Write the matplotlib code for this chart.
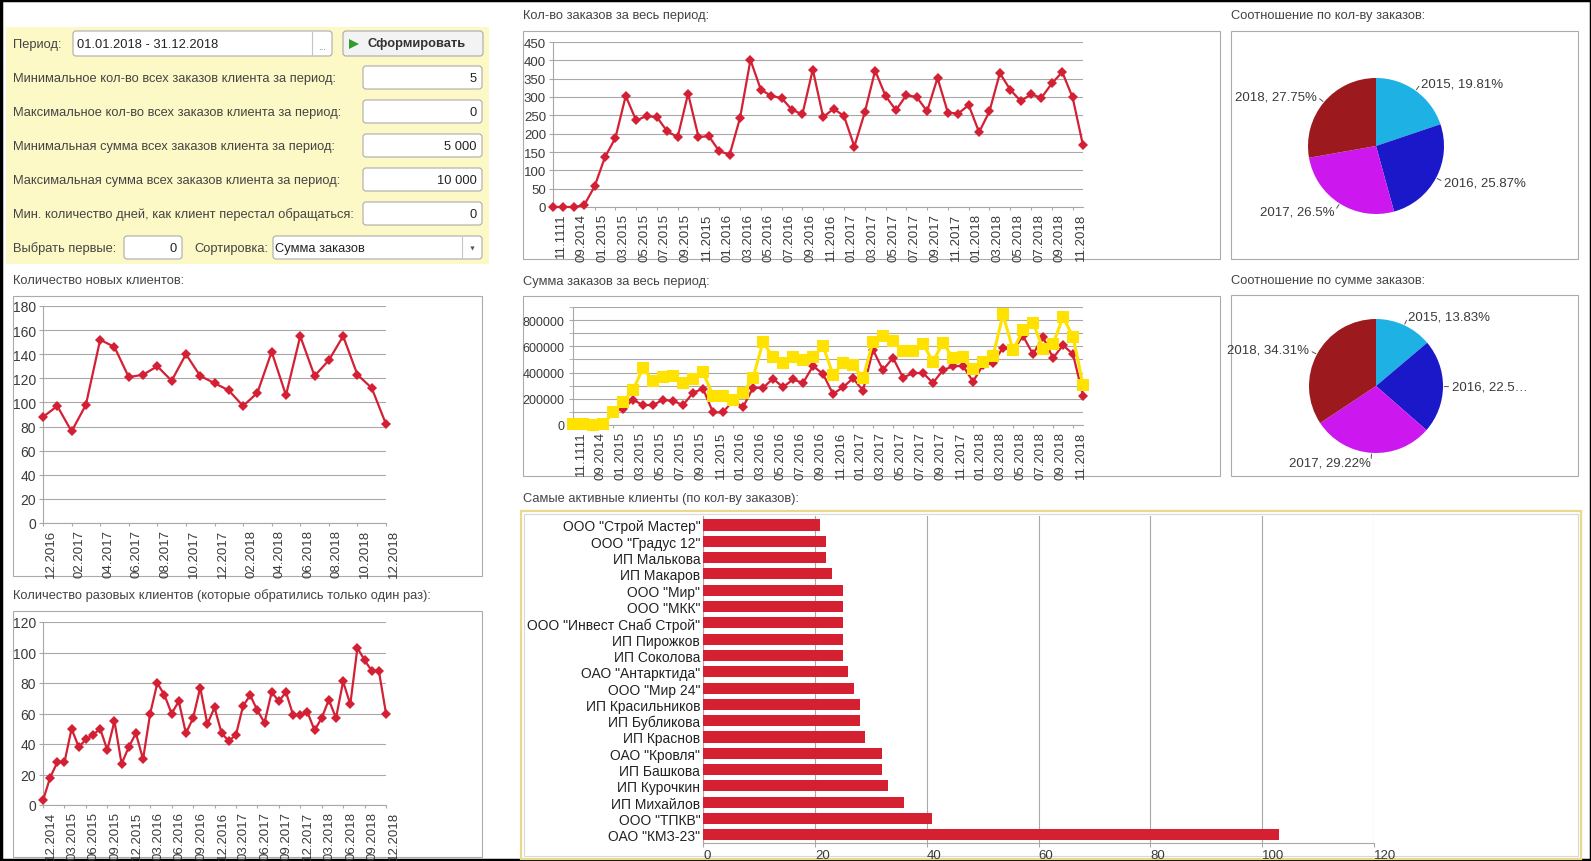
import matplotlib
matplotlib.use('Agg')
import matplotlib.pyplot as plt
from matplotlib.patches import Rectangle, FancyBboxPatch
from matplotlib.transforms import ScaledTranslation
import numpy as np

plt.rcParams['font.family'] = ['Liberation Sans', 'DejaVu Sans']
NARROW = ['Liberation Sans Narrow', 'Liberation Sans', 'DejaVu Sans']

# ---- data ----
new_clients = [88, 97, 76, 98, 152, 146, 121, 123, 130, 118, 140, 122, 116,
               110, 97, 108, 142, 106, 155, 122, 135, 155, 123, 112, 82]
new_ticks = ['12.2016', '02.2017', '04.2017', '06.2017', '08.2017', '10.2017', '12.2017',
             '02.2018', '04.2018', '06.2018', '08.2018', '10.2018', '12.2018']

one_time = [3, 18, 28, 28, 50, 38, 43, 46, 50, 36, 55, 27, 38, 47, 30, 60, 80, 72, 60, 68,
            47, 57, 77, 53, 64, 47, 42, 46, 65, 72, 62, 54, 74, 68, 74, 59, 59, 61, 49, 57,
            69, 57, 81, 66, 103, 95, 88, 88, 60]
one_time_ticks = ['12.2014', '03.2015', '06.2015', '09.2015', '12.2015', '03.2016', '06.2016',
                  '09.2016', '12.2016', '03.2017', '06.2017', '09.2017', '12.2017', '03.2018',
                  '06.2018', '09.2018', '12.2018']

orders_count = [0, 0, 0, 5, 56, 136, 188, 303, 236, 248, 245, 206, 191, 309, 191, 193, 152, 143,
                243, 401, 320, 303, 297, 265, 253, 375, 245, 268, 248, 165, 258, 372, 303, 264,
                305, 300, 261, 352, 257, 255, 278, 204, 261, 365, 320, 289, 307, 298, 337, 368,
                299, 168]
orders_ticks = ['11.1111', '09.2014', '01.2015', '03.2015', '05.2015', '07.2015', '09.2015',
                '11.2015', '01.2016', '03.2016', '05.2016', '07.2016', '09.2016', '11.2016',
                '01.2017', '03.2017', '05.2017', '07.2017', '09.2017', '11.2017', '01.2018',
                '03.2018', '05.2018', '07.2018', '09.2018', '11.2018']

sum_red = [0, 0, 0, 0, 100000, 124000, 192000, 152000, 152000, 192000, 184000, 152000, 245000,
           278000, 96000, 96000, 187000, 136000, 283000, 283000, 354000, 288000, 348000, 320000,
           450000, 389000, 237000, 288000, 356000, 263000, 573000, 419000, 513000, 361000,
           396000, 396000, 321000, 419000, 447000, 452000, 331000, 457000, 470000, 591000,
           566000, 679000, 540000, 672000, 510000, 609000, 540000, 225000]
sum_yellow = [8000, 4000, 0, 4000, 96000, 174000, 268000, 432000, 338000, 366000, 374000, 318000,
              351000, 402000, 225000, 225000, 194000, 245000, 359000, 634000, 515000, 475000,
              515000, 492000, 515000, 604000, 384000, 470000, 455000, 359000, 636000, 677000,
              641000, 561000, 561000, 619000, 482000, 629000, 508000, 520000, 424000, 477000,
              525000, 843000, 571000, 722000, 780000, 583000, 616000, 823000, 674000, 308000]

pie_years = ['2015', '2016', '2017', '2018']
pie_count_share = [19.81, 25.87, 26.5, 27.75]
pie_sum_share = [13.83, 22.58, 29.22, 34.31]
pie_sum_labels = ['2015, 13.83%', '2016, 22.5\u2026', '2017, 29.22%', '2018, 34.31%']

clients = ['ООО "Строй Мастер"', 'ООО "Градус 12"', 'ИП Малькова', 'ИП Макаров', 'ООО "Мир"',
           'ООО "МКК"', 'ООО "Инвест Снаб Строй"', 'ИП Пирожков', 'ИП Соколова',
           'ОАО "Антарктида"', 'ООО "Мир 24"', 'ИП Красильников', 'ИП Бубликова', 'ИП Краснов',
           'ОАО "Кровля"', 'ИП Башкова', 'ИП Курочкин', 'ИП Михайлов', 'ООО "ТПКВ"', 'ОАО "КМЗ-23"']
client_orders = [21, 22, 22, 23, 25, 25, 25, 25, 25, 26, 27, 28, 28, 29, 32, 32, 33, 36, 41, 103]

form_rows = [('Минимальное кол-во всех заказов клиента за период:', '5'),
             ('Максимальное кол-во всех заказов клиента за период:', '0'),
             ('Минимальная сумма всех заказов клиента за период:', '5 000'),
             ('Максимальная сумма всех заказов клиента за период:', '10 000'),
             ('Мин. количество дней, как клиент перестал обращаться:', '0')]

RED = '#d42034'
YELLOW = '#ffe200'
GRID = '#a8a8a8'
TXT = '#3a3a3a'
pie_colors = ['#1eb1e3', '#1b18c9', '#cc18ee', '#9c1a1d']

W, H = 1591, 862
fig = plt.figure(figsize=(W / 100, H / 100), dpi=100)
fig.patch.set_facecolor('white')

bg = fig.add_axes([0, 0, 1, 1])
bg.set_xlim(0, W)
bg.set_ylim(H, 0)
bg.axis('off')


def px_axes(x0, y0, x1, y1):
    ax = fig.add_axes([x0 / W, 1 - y1 / H, (x1 - x0) / W, (y1 - y0) / H])
    ax.set_facecolor('none')
    return ax


def box(x0, y0, x1, y1, ec='#ababab', fc='white', lw=0.8, r=0):
    if r:
        p = FancyBboxPatch((x0, y0), x1 - x0, y1 - y0, boxstyle=f'round,pad=0,rounding_size={r}',
                           ec=ec, fc=fc, lw=lw)
    else:
        p = Rectangle((x0, y0), x1 - x0, y1 - y0, ec=ec, fc=fc, lw=lw)
    bg.add_patch(p)


def label(x, y, s, size=9.3, color='#444444', **kw):
    bg.text(x, y, s, fontsize=size, color=color, va='center', **kw)


def shift_labels(labels, dx):
    off = ScaledTranslation(dx / 100, 0, fig.dpi_scale_trans)
    for t in labels:
        t.set_transform(t.get_transform() + off)


def style_axes(ax):
    for s in ['top', 'right']:
        ax.spines[s].set_visible(False)
    for s in ['left', 'bottom']:
        ax.spines[s].set_color(GRID)
        ax.spines[s].set_linewidth(0.8)
    ax.set_axisbelow(True)


def line_chart(rect, values, ticks, step, ymax, ystep, ysize=10):
    ax = px_axes(*rect)
    x = np.arange(len(values))
    ax.plot(x, values, color=RED, lw=1.6, marker='D', ms=5.5, mew=0, clip_on=False, zorder=3)
    ax.set_xlim(0, len(values) - 1)
    ax.set_ylim(0, ymax)
    ax.set_yticks(np.arange(0, ymax + 1, ystep))
    ax.yaxis.grid(True, color=GRID, lw=0.8)
    ax.set_xticks(x[::step])
    ax.set_xticklabels(ticks, rotation=90, fontsize=9.5, color=TXT, family=NARROW)
    for t in ax.get_yticklabels():
        t.set_fontfamily(NARROW)
        t.set_fontsize(ysize)
        t.set_color(TXT)
    ax.tick_params(axis='y', length=3, color=GRID, pad=2)
    ax.tick_params(axis='x', length=2, color=GRID, pad=2)
    shift_labels(ax.get_xticklabels(), 8)
    style_axes(ax)
    return ax


# outer frame of the screenshot
bg.add_patch(Rectangle((0.5, 0.5), W - 1, H - 1, fc='none', ec='black', lw=2.5))

# ---- settings form ----
bg.add_patch(Rectangle((6, 28), 483, 237, fc='#fdf9c6', ec='none'))
label(13, 45, 'Период:')
box(73, 32, 332, 57, r=3)
bg.plot([312, 312], [33, 56], color='#c4c4c4', lw=0.8)
label(77, 45, '01.01.2018 - 31.12.2018', color='#222222')
label(322, 47, '...', size=7, color='#777777', ha='center')
box(343, 32, 483, 57, fc='#f3f3f3', ec='#a9a9a9', r=3)
bg.plot([354], [44.5], marker='>', ms=7, color='#2f9e2f', mew=0)
label(368, 44.5, 'Сформировать', color='#333333', fontweight='bold')

for i, (text, val) in enumerate(form_rows):
    yc = 79 + i * 34
    label(13, yc, text)
    box(363, yc - 12, 482, yc + 11, r=3)
    label(477, yc, val, color='#222222', ha='right')

label(13, 249, 'Выбрать первые:')
box(124, 237, 182, 260, r=3)
label(177, 249, '0', color='#222222', ha='right')
label(194, 249, 'Сортировка:')
box(273, 237, 482, 260, r=3)
bg.plot([462, 462], [238, 259], color='#c4c4c4', lw=0.8)
label(275, 249, 'Сумма заказов', color='#222222')
bg.plot([472], [249], marker='v', ms=3, color='#555555', mew=0)

# ---- chart frames and titles ----
label(13, 281, 'Количество новых клиентов:')
box(13, 297, 482, 577)
label(13, 596, 'Количество разовых клиентов (которые обратились только один раз):')
box(13, 612, 482, 858)
label(523, 16, 'Кол-во заказов за весь период:')
box(523, 32, 1220, 260)
label(523, 282, 'Сумма заказов за весь период:')
box(523, 297, 1220, 477)
label(1231, 16, 'Соотношение по кол-ву заказов:')
box(1231, 32, 1578, 260)
label(1231, 281, 'Соотношение по сумме заказов:')
box(1231, 296, 1578, 477)
label(523, 499, 'Самые активные клиенты (по кол-ву заказов):')
box(521, 512, 1581, 860, ec='#e9d98a', lw=1.6)
box(524, 515, 1578, 857, ec='#d8d8d8', lw=0.8)

# ---- line charts ----
line_chart((43, 307, 386, 524), new_clients, new_ticks, 2, 180, 20)
line_chart((43, 623, 386, 806), one_time, one_time_ticks, 3, 120, 20)
line_chart((553, 43, 1083, 208), orders_count, orders_ticks, 2, 450, 50, ysize=9.5)

ax = px_axes(573, 308, 1083, 426)
x = np.arange(len(sum_red))
ax.plot(x, sum_red, color=RED, lw=1.6, marker='D', ms=5, mew=0, clip_on=False, zorder=3)
ax.plot(x, sum_yellow, color=YELLOW, lw=2.2, marker='s', ms=8, mew=0, clip_on=False, zorder=4)
ax.set_xlim(0, len(sum_red) - 1)
ax.set_ylim(0, 900000)
ax.set_yticks(np.arange(0, 800001, 200000))
ax.set_yticks(np.arange(100000, 900001, 200000), minor=True)
ax.set_yticklabels([str(v) for v in range(0, 800001, 200000)], family=NARROW, fontsize=9, color=TXT)
ax.yaxis.grid(True, which='both', color=GRID, lw=0.8)
ax.set_xticks(x[::2])
ax.set_xticklabels(orders_ticks, rotation=90, fontsize=9.5, color=TXT, family=NARROW)
ax.tick_params(axis='y', which='both', length=3, color=GRID, pad=3)
ax.tick_params(axis='x', length=2, color=GRID, pad=2)
shift_labels(ax.get_xticklabels(), 8)
style_axes(ax)


# ---- pies ----
def pie_chart(rect, shares, texts):
    ax = px_axes(*rect)
    wedges, _ = ax.pie(shares, colors=pie_colors, startangle=90, counterclock=False,
                       wedgeprops=dict(linewidth=0))
    ax.set_xlim(-1, 1)
    ax.set_ylim(-1, 1)
    for w, t in zip(wedges, texts):
        ang = np.deg2rad((w.theta1 + w.theta2) / 2)
        c, s = np.cos(ang), np.sin(ang)
        ax.plot([1.02 * c, 1.08 * c], [1.02 * s, 1.08 * s], color='#555555', lw=0.7, clip_on=False)
        ax.text(1.14 * c, 1.14 * s, t, ha='left' if c > 0 else 'right', va='center',
                fontsize=9.5, color=TXT, family=NARROW, clip_on=False)


pie_chart((1308, 79, 1444, 215), pie_count_share,
          [f'{y}, {v:g}%' for y, v in zip(pie_years, pie_count_share)])
pie_chart((1309, 320, 1443, 454), pie_sum_share, pie_sum_labels)

# ---- bar chart ----
ax = px_axes(703, 517, 1374, 844)
y = np.arange(len(clients))
ax.barh(y, client_orders, height=0.68, color='#d42030', zorder=3)
ax.set_ylim(len(clients) - 0.5, -0.55)
ax.set_yticks(y)
ax.set_yticklabels(clients, fontsize=10, color='#222222')
ax.set_xlim(0, 120)
ax.set_xticks(range(0, 121, 20))
ax.set_xticklabels([str(v) for v in range(0, 121, 20)], fontsize=9.5, color=TXT, family=NARROW, ha='left')
shift_labels(ax.get_xticklabels(), 2)
ax.xaxis.grid(True, color=GRID, lw=0.8)
ax.tick_params(axis='y', length=0, pad=2)
ax.tick_params(axis='x', length=3, color=GRID, pad=1)
style_axes(ax)

fig.savefig('out.png', dpi=100, facecolor='white')
